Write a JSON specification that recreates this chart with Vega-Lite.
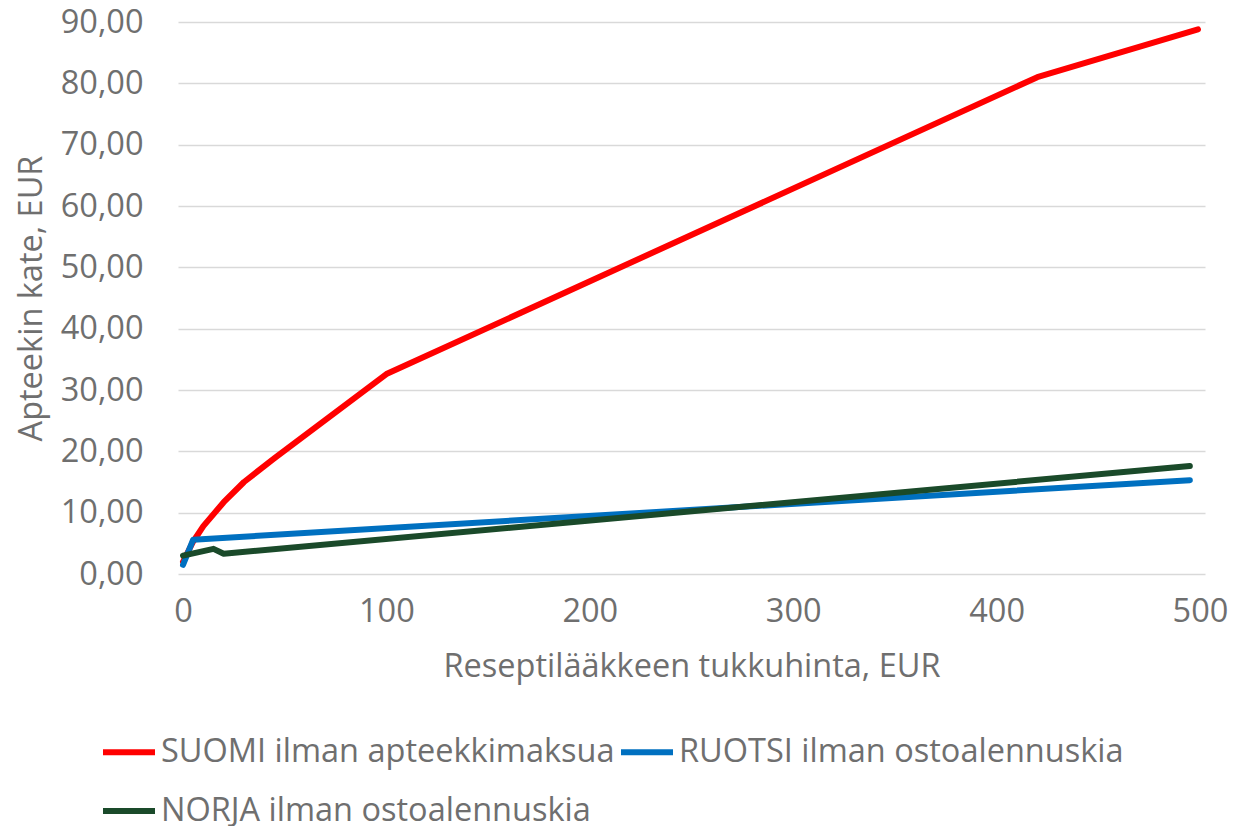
{
  "$schema": "https://vega.github.io/schema/vega-lite/v6.json",
  "width": 1027,
  "height": 552,
  "autosize": {"type": "none"},
  "padding": {"left": 178, "top": 22, "right": 28, "bottom": 252},
  "background": "white",
  "data": {
    "values": [
      {"series": "SUOMI ilman apteekkimaksua", "s": 0, "hinta": 0, "kate": 2.0},
      {"series": "SUOMI ilman apteekkimaksua", "s": 0, "hinta": 5, "kate": 5.3},
      {"series": "SUOMI ilman apteekkimaksua", "s": 0, "hinta": 10, "kate": 7.8},
      {"series": "SUOMI ilman apteekkimaksua", "s": 0, "hinta": 20, "kate": 11.7},
      {"series": "SUOMI ilman apteekkimaksua", "s": 0, "hinta": 30, "kate": 15.0},
      {"series": "SUOMI ilman apteekkimaksua", "s": 0, "hinta": 45, "kate": 18.9},
      {"series": "SUOMI ilman apteekkimaksua", "s": 0, "hinta": 100, "kate": 32.6},
      {"series": "SUOMI ilman apteekkimaksua", "s": 0, "hinta": 420, "kate": 81.0},
      {"series": "SUOMI ilman apteekkimaksua", "s": 0, "hinta": 499, "kate": 88.8},
      {"series": "RUOTSI ilman ostoalennuskia", "s": 1, "hinta": 0, "kate": 1.5},
      {"series": "RUOTSI ilman ostoalennuskia", "s": 1, "hinta": 5, "kate": 5.6},
      {"series": "RUOTSI ilman ostoalennuskia", "s": 1, "hinta": 495, "kate": 15.3},
      {"series": "NORJA ilman ostoalennuskia", "s": 2, "hinta": 0, "kate": 3.0},
      {"series": "NORJA ilman ostoalennuskia", "s": 2, "hinta": 15, "kate": 4.1},
      {"series": "NORJA ilman ostoalennuskia", "s": 2, "hinta": 20, "kate": 3.3},
      {"series": "NORJA ilman ostoalennuskia", "s": 2, "hinta": 495, "kate": 17.6}
    ]
  },
  "mark": {"type": "line", "strokeWidth": 6, "strokeCap": "round", "strokeJoin": "round"},
  "encoding": {
    "x": {
      "field": "hinta", "type": "quantitative",
      "scale": {"domain": [-2.46, 502.46], "nice": false, "zero": false},
      "axis": {
        "values": [0, 100, 200, 300, 400, 500],
        "title": "Reseptilääkkeen tukkuhinta, EUR",
        "grid": false, "domain": false, "ticks": false,
        "labelBaseline": "middle", "labelPadding": 37,
        "titleBaseline": "middle", "titleY": 92, "titleX": 513.5, "titleAnchor": "middle"
      }
    },
    "y": {
      "field": "kate", "type": "quantitative",
      "scale": {"domain": [0, 90], "nice": false},
      "axis": {
        "values": [0, 10, 20, 30, 40, 50, 60, 70, 80, 90],
        "format": ".2f",
        "title": "Apteekin kate, EUR",
        "grid": true, "gridColor": "#D9D9D9", "gridWidth": 1.5,
        "domain": false, "ticks": false,
        "labelPadding": 35,
        "titleBaseline": "middle", "titleX": -147, "titleY": 276, "titleAngle": 270, "titleAlign": "center"
      }
    },
    "color": {
      "field": "series", "type": "nominal",
      "scale": {
        "domain": ["SUOMI ilman apteekkimaksua", "RUOTSI ilman ostoalennuskia", "NORJA ilman ostoalennuskia"],
        "range": ["#FF0000", "#0070C0", "#1A4A2A"]
      },
      "legend": {
        "title": null,
        "orient": "none",
        "legendX": -78,
        "legendY": 701,
        "direction": "horizontal",
        "columns": 2,
        "symbolType": "stroke",
        "symbolSize": 2704,
        "symbolStrokeWidth": 6,
        "labelOffset": 3,
        "columnPadding": -6,
        "rowPadding": 13,
        "labelLimit": 600
      }
    },
    "order": {"field": "s"}
  },
  "config": {
    "locale": {"number": {"decimal": ",", "thousands": "\u00a0", "grouping": [3], "currency": ["", " €"]}},
    "view": {"stroke": null},
    "font": "Open Sans",
    "axis": {
      "labelFont": "Open Sans", "titleFont": "Open Sans",
      "labelFontSize": 32.5, "titleFontSize": 32.5,
      "labelColor": "#6F6F6F", "titleColor": "#6F6F6F",
      "titleFontWeight": "normal"
    },
    "legend": {"labelFont": "Open Sans", "labelFontSize": 32.5, "labelColor": "#6F6F6F"}
  }
}
